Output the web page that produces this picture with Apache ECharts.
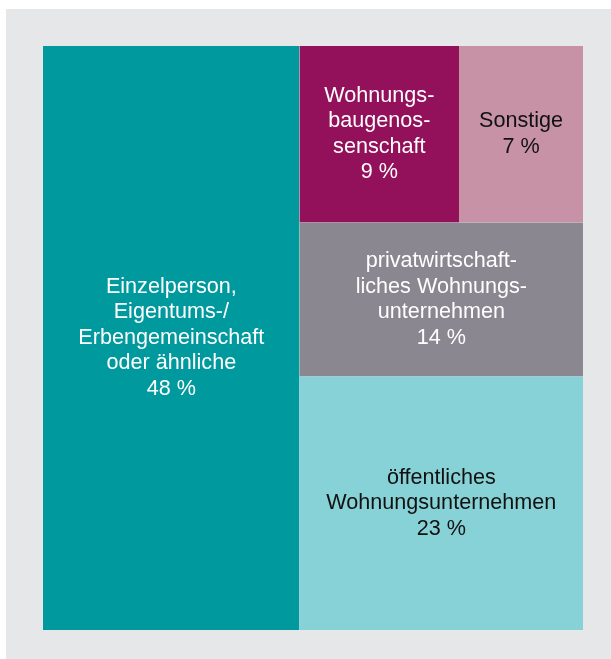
<!DOCTYPE html>
<html>

<head>
    <meta charset="utf-8">
    <script src="https://cdn.jsdelivr.net/npm/echarts@6/dist/echarts.min.js"></script>
    <style>
        html, body { margin: 0; padding: 0; background: #ffffff; }
        #main { width: 611px; height: 659px; }
    </style>
</head>

<body>
    <div id="main"></div>
</body>
<script>
    // shares in percent
    var ownerNames = [
        'Einzelperson,\nEigentums-/\nErbengemeinschaft\noder ähnliche',
        'Wohnungs-\nbaugenos-\nsenschaft',
        'Sonstige',
        'privatwirtschaft-\nliches Wohnungs-\nunternehmen',
        'öffentliches\nWohnungsunternehmen'
    ];
    var ownerShares = [48, 9, 7, 14, 23];
    var ownerColors = ['#00999e', '#93105b', '#c792a6', '#8a8791', '#87d2d7'];
    var labelColors = ['#ffffff', '#ffffff', '#111111', '#ffffff', '#111111'];

    function leaf(i) {
        return {
            name: ownerNames[i],
            value: ownerShares[i],
            itemStyle: { color: ownerColors[i] },
            label: { color: labelColors[i] }
        };
    }

    var treeData = [
        leaf(0),
        {
            name: 'rest',
            children: [
                { name: 'top', children: [leaf(1), leaf(2)] },
                leaf(3),
                leaf(4)
            ]
        }
    ];

    var myChart = echarts.init(document.getElementById('main'));
    myChart.setOption({
        animation: false,
        graphic: [{
            type: 'rect',
            left: 6,
            top: 9,
            shape: { width: 605, height: 650 },
            style: { fill: '#e6e7e9' },
            z: -10
        }],
        series: [{
            type: 'treemap',
            left: 43,
            top: 46,
            width: 540,
            height: 584,
            sort: false,
            squareRatio: 1.15,
            roam: false,
            nodeClick: false,
            breadcrumb: { show: false },
            visibleMin: 0,
            itemStyle: { borderWidth: 0, gapWidth: 0 },
            upperLabel: { show: false },
            label: {
                show: true,
                position: 'inside',
                align: 'center',
                verticalAlign: 'middle',
                fontFamily: 'Liberation Sans, Arial, sans-serif',
                fontSize: 21.6,
                lineHeight: 25.5,
                overflow: 'none',
                formatter: function (p) {
                    return p.name + '\n' + p.value + ' %';
                }
            },
            levels: [
                { itemStyle: { borderWidth: 0, gapWidth: 0 } },
                { itemStyle: { borderWidth: 0, gapWidth: 0 } },
                { itemStyle: { borderWidth: 0, gapWidth: 0 } }
            ],
            emphasis: { disabled: true },
            data: treeData
        }]
    });
</script>

</html>
